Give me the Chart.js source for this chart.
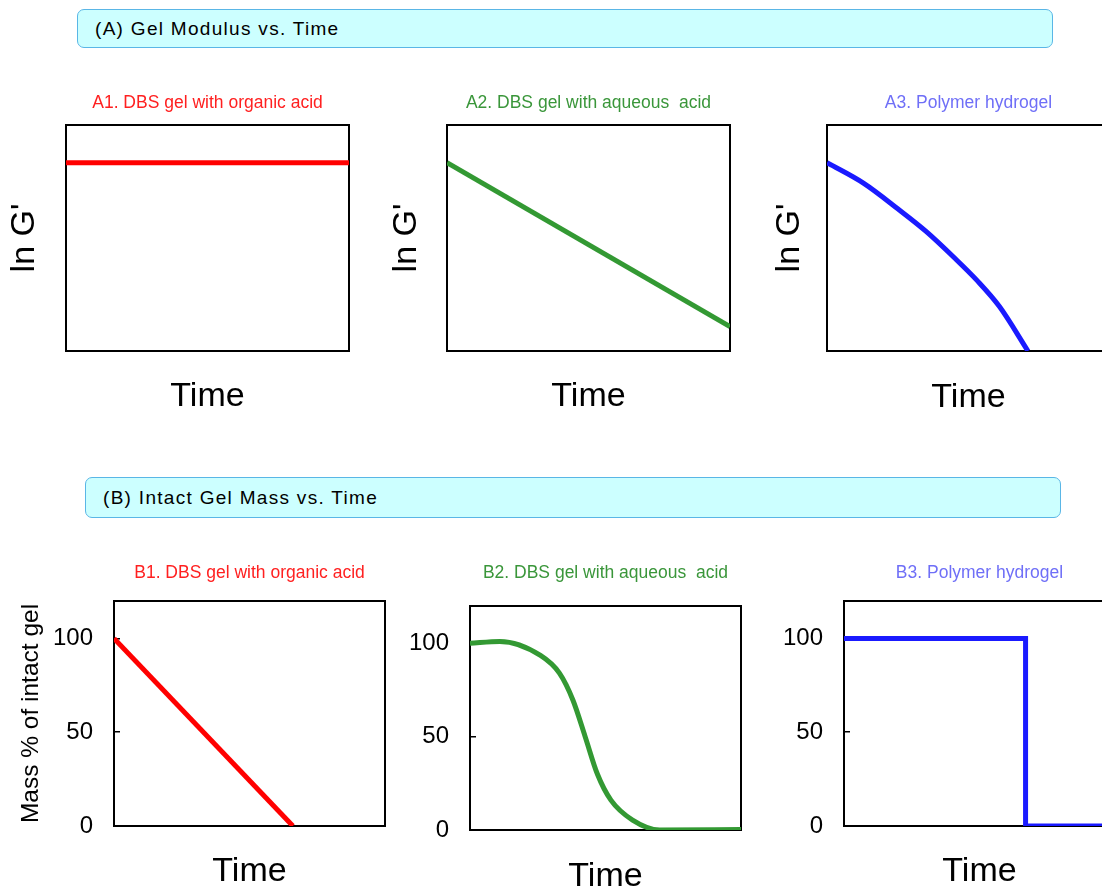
<!DOCTYPE html>
<html>
<head>
<meta charset="utf-8">
<script src="https://cdn.jsdelivr.net/npm/chart.js@4.4.1/dist/chart.umd.min.js"></script>
<style>
html, body { margin: 0; padding: 0; background: #fff; }
body { position: relative; width: 1102px; height: 886px; overflow: hidden; font-family: "Liberation Sans", Arial, sans-serif; }
.banner { position: absolute; box-sizing: border-box; background: #ccffff; border: 1px solid #5ab6e6; border-radius: 7px;
  display: flex; align-items: center; padding-left: 17px; font-size: 19px; letter-spacing: 1.3px; color: #000; }
canvas { position: absolute; }
</style>
</head>
<body>
<div class="banner" style="left:77px;top:9px;width:976px;height:39px;">(A) Gel Modulus vs. Time</div>
<div class="banner" style="left:85px;top:477px;width:976px;height:41px;">(B) Intact Gel Mass vs. Time</div>
<script>
// panel A: ln G' vs time (arbitrary units)
const timeA1 = [0, 10];
const modA1 = [10, 10];
const timeA2 = [0, 10];
const modA2 = [10, 1.3];
const timeA3 = [0, 1.3, 2.5, 3.5, 4.5, 5.3, 6.1, 7.1];
const modA3 = [10, 8.9, 7.55, 6.35, 4.95, 3.75, 2.35, 0];

// panel B: mass % of intact gel vs time
const timeB1 = [0, 6.6];
const massB1 = [100, 0];
const timeB2 = [0, 1.1, 2.6, 3.3, 3.8, 4.25, 4.7, 5.2, 6.0, 7.0, 10];
const massB2 = [100, 101, 93.5, 84, 69.5, 50, 30, 16, 5.3, 0, 0.3];
const timeB3 = [0, 6.7, 6.7, 10];
const massB3 = [100, 100, 0, 0];
const massTicks = [0, 50, 100];

const FONT = "'Liberation Sans', Arial, sans-serif";

const boxPlugin = {
  id: 'box',
  beforeDatasetsDraw(chart) {
    const a = chart.chartArea;
    const c = chart.ctx;
    c.save();
    c.lineWidth = 2;
    c.strokeStyle = '#000';
    c.strokeRect(a.left, a.top, a.right - a.left, a.bottom - a.top);
    c.restore();
  }
};

function makePanel(p) {
  const left = p.canvasLeft;
  const top = p.titleY - 20;
  const bottom = p.timeY + 25;
  const yw = p.l - left;
  const xh = bottom - (p.t + p.h);
  const W = yw + p.w + 3;
  const H = bottom - top;

  const cv = document.createElement('canvas');
  cv.width = W;
  cv.height = H;
  cv.style.left = left + 'px';
  cv.style.top = top + 'px';
  cv.style.width = W + 'px';
  cv.style.height = H + 'px';
  document.body.appendChild(cv);

  const yTitleSize = p.yTitleSize || 34;
  const yScale = {
    min: p.ymin,
    max: p.ymax,
    border: { display: false },
    title: {
      display: !!p.yTitle,
      text: p.yTitle || '',
      color: '#000',
      font: { family: FONT, size: yTitleSize },
      padding: { top: p.yTitleX - left - yTitleSize * 0.6, bottom: 0 }
    },
    afterFit: s => { s.width = yw; }
  };
  if (p.yTicks) {
    yScale.ticks = { display: true, color: '#000', font: { family: FONT, size: 24 }, padding: 27 };
    yScale.grid = { display: true, drawOnChartArea: false, drawTicks: true, tickLength: -6, color: '#000', lineWidth: 1.5 };
    yScale.afterBuildTicks = s => { s.ticks = p.yTicks.map(v => ({ value: v })); };
  } else {
    yScale.ticks = { display: false };
    yScale.grid = { display: false };
  }

  new Chart(cv, {
    type: 'line',
    data: {
      datasets: [{
        data: p.xs.map((x, i) => ({ x: x, y: p.ys[i] })),
        borderColor: p.color,
        borderWidth: 5,
        pointRadius: 0,
        fill: false,
        cubicInterpolationMode: p.smooth ? 'monotone' : 'default',
        tension: 0
      }]
    },
    options: {
      responsive: false,
      animation: false,
      layout: { padding: { left: 0, top: 0, right: 3, bottom: 0 } },
      plugins: {
        legend: { display: false },
        tooltip: { enabled: false },
        title: {
          display: true,
          text: p.title,
          color: p.titleColor,
          fullSize: false,
          font: { family: FONT, size: 17.5, weight: 'normal' },
          padding: { top: 11.5, bottom: p.t - p.titleY - 12.5 }
        }
      },
      scales: {
        x: {
          type: 'linear',
          min: 0,
          max: 10,
          ticks: { display: false },
          grid: { display: false },
          border: { display: false },
          title: {
            display: true,
            text: 'Time',
            color: '#000',
            font: { family: FONT, size: 34 },
            padding: { top: 0, bottom: 25 - 20.4 }
          },
          afterFit: s => { s.height = xh; }
        },
        y: yScale
      }
    },
    plugins: [boxPlugin]
  });
}

makePanel({ canvasLeft: 2, l: 66, t: 125, w: 283, h: 226, titleY: 101, yTitleX: 25, timeY: 397,
  title: 'A1. DBS gel with organic acid', titleColor: '#ff2020', color: '#ff0000',
  yTitle: "ln G'", ymin: 0, ymax: 12, xs: timeA1, ys: modA1 });
makePanel({ canvasLeft: 380, l: 447, t: 125, w: 283, h: 226, titleY: 101, yTitleX: 407, timeY: 397,
  title: 'A2. DBS gel with aqueous  acid', titleColor: '#3a963a', color: '#339933',
  yTitle: "ln G'", ymin: 0, ymax: 12, xs: timeA2, ys: modA2 });
makePanel({ canvasLeft: 762, l: 827, t: 125, w: 283, h: 226, titleY: 101, yTitleX: 790, timeY: 398,
  title: 'A3. Polymer hydrogel', titleColor: '#6f6ff7', color: '#1a1aff',
  yTitle: "ln G'", ymin: 0, ymax: 12, xs: timeA3, ys: modA3, smooth: true });

makePanel({ canvasLeft: 6, l: 114, t: 601, w: 271, h: 225, titleY: 571, yTitleX: 31, timeY: 872,
  title: 'B1. DBS gel with organic acid', titleColor: '#ff2020', color: '#ff0000',
  yTitle: 'Mass % of intact gel', yTitleSize: 24.5, ymin: 0, ymax: 120, yTicks: massTicks, xs: timeB1, ys: massB1 });
makePanel({ canvasLeft: 400, l: 470, t: 606, w: 271, h: 224, titleY: 571, yTitleX: 420, timeY: 877,
  title: 'B2. DBS gel with aqueous  acid', titleColor: '#3a963a', color: '#339933',
  ymin: 0, ymax: 120, yTicks: massTicks, xs: timeB2, ys: massB2, smooth: true });
makePanel({ canvasLeft: 774, l: 844, t: 601, w: 271, h: 225, titleY: 571, yTitleX: 794, timeY: 872,
  title: 'B3. Polymer hydrogel', titleColor: '#6f6ff7', color: '#1a1aff',
  ymin: 0, ymax: 120, yTicks: massTicks, xs: timeB3, ys: massB3 });
</script>
</body>
</html>
